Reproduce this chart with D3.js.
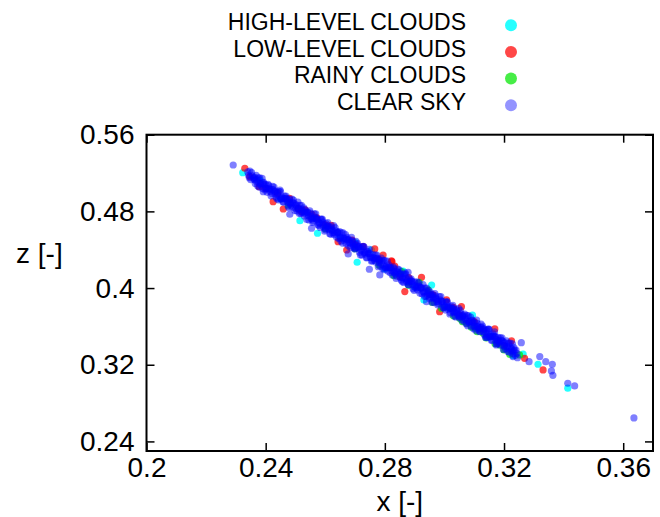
<!DOCTYPE html>
<html>
<head>
<meta charset="utf-8">
<script src="https://cdn.jsdelivr.net/npm/d3@7"></script>
<style>
  body { margin: 0; background: #fff; }
  text { font-family: "Liberation Sans", Arial, Helvetica, sans-serif; fill: #000; }
</style>
</head>
<body>
<div id="chart-area"></div>
<script>
// ticks
const xTicks = [0.2, 0.24, 0.28, 0.32, 0.36];
const zTicks = [0.24, 0.32, 0.4, 0.48, 0.56];

// series names, in plot order
const seriesNames = ['HIGH-LEVEL CLOUDS', 'LOW-LEVEL CLOUDS', 'RAINY CLOUDS', 'CLEAR SKY'];

// [x, z]
const highClouds = [
  [0.2323,0.5204],[0.2381,0.5127],[0.2450,0.4930],[0.2515,0.4703],[0.2574,0.4572],
  [0.2650,0.4520],[0.2699,0.4477],[0.2707,0.4269],[0.2755,0.4397],[0.2800,0.4200],
  [0.2861,0.4178],[0.2900,0.4010],[0.2931,0.3876],[0.2957,0.4032],[0.3000,0.3800],
  [0.3094,0.3717],[0.3100,0.3600],[0.3150,0.3490],[0.3200,0.3390],[0.3230,0.3296],
  [0.3264,0.3310],[0.3314,0.3205],[0.3414,0.2955]
];

const lowClouds = [
  [0.2330,0.5250],[0.2347,0.5162],[0.2378,0.5058],[0.2400,0.5040],[0.2425,0.4901],
  [0.2459,0.4825],[0.2509,0.4832],[0.2520,0.4800],[0.2532,0.4815],[0.2571,0.4734],
  [0.2600,0.4660],[0.2643,0.4484],[0.2672,0.4397],[0.2700,0.4450],[0.2727,0.4432],
  [0.2766,0.4408],[0.2794,0.4345],[0.2822,0.4283],[0.2824,0.4276],[0.2833,0.4230],
  [0.2850,0.4120],[0.2867,0.3963],[0.2923,0.4112],[0.2950,0.3935],[0.2962,0.3928],
  [0.2984,0.3754],[0.3007,0.3876],[0.3050,0.3720],[0.3057,0.3806],[0.3120,0.3570],
  [0.3169,0.3574],[0.3180,0.3430],[0.3200,0.3400],[0.3225,0.3449],[0.3269,0.3267],
  [0.3331,0.3146],[0.2440,0.4990],[0.2480,0.4935],[0.2555,0.4770],[0.2620,0.4655],
  [0.2690,0.4500],[0.2780,0.4300],[0.2880,0.4110],[0.3030,0.3800],[0.3100,0.3650]
];

const rainyClouds = [
  [0.2476,0.4867],[0.2600,0.4620],[0.2700,0.4410],[0.2780,0.4240],[0.2830,0.4130],
  [0.2856,0.4171],[0.2880,0.4030],[0.2915,0.4060],[0.2945,0.3980],[0.2960,0.3850],
  [0.2990,0.3790],[0.3018,0.3789],[0.3030,0.3710],[0.3051,0.3685],[0.3060,0.3650],
  [0.3074,0.3633],[0.3090,0.3590],[0.3102,0.3587],[0.3110,0.3545],[0.3130,0.3528],
  [0.3140,0.3480],[0.3152,0.3493],[0.3170,0.3420],[0.3186,0.3406],[0.3200,0.3355],
  [0.3219,0.3310],[0.3252,0.3302]
];

const clearSky = [
  [0.2291,0.5284],[0.2347,0.5220],[0.2364,0.5127],[0.2392,0.5005],[0.2481,0.4770],
  [0.2554,0.4624],[0.2677,0.4356],[0.2748,0.4196],[0.2783,0.4137],[0.2878,0.4165],
  [0.2940,0.3858],[0.3029,0.3754],[0.3141,0.3493],[0.3174,0.3406],[0.3258,0.3430],
  [0.3230,0.3285],[0.3284,0.3232],[0.3320,0.3285],[0.3340,0.3232],[0.3362,0.3205],
  [0.3359,0.3135],[0.3364,0.3090],[0.3414,0.3007],[0.3437,0.2979],[0.3636,0.2645],
  [0.2340,0.5212],[0.2345,0.5152],[0.2343,0.5176],[0.2350,0.5131],[0.2355,0.5171],[0.2353,0.5205],
  [0.2360,0.5151],[0.2365,0.5091],[0.2363,0.5155],[0.2370,0.5110],[0.2375,0.5150],[0.2373,0.5064],
  [0.2380,0.5150],[0.2385,0.5090],[0.2383,0.5074],[0.2390,0.5039],[0.2395,0.5079],[0.2393,0.5103],
  [0.2400,0.5079],[0.2405,0.4999],[0.2403,0.5043],[0.2410,0.5068],[0.2415,0.5008],[0.2413,0.5032],
  [0.2420,0.4988],[0.2425,0.5028],[0.2423,0.5062],[0.2430,0.5007],[0.2435,0.4947],[0.2433,0.5011],
  [0.2440,0.4967],[0.2445,0.5007],[0.2443,0.4921],[0.2450,0.5006],[0.2455,0.4946],[0.2453,0.4930],
  [0.2460,0.4896],[0.2465,0.4936],[0.2463,0.4960],[0.2470,0.4935],[0.2475,0.4855],[0.2473,0.4899],
  [0.2480,0.4925],[0.2485,0.4865],[0.2483,0.4889],[0.2490,0.4844],[0.2495,0.4884],[0.2493,0.4918],
  [0.2500,0.4863],[0.2505,0.4803],[0.2503,0.4867],[0.2510,0.4823],[0.2515,0.4863],[0.2513,0.4777],
  [0.2520,0.4862],[0.2525,0.4802],[0.2523,0.4786],[0.2530,0.4752],[0.2535,0.4792],[0.2533,0.4816],
  [0.2540,0.4791],[0.2545,0.4711],[0.2543,0.4755],[0.2550,0.4781],[0.2555,0.4721],[0.2553,0.4745],
  [0.2560,0.4700],[0.2565,0.4740],[0.2563,0.4774],[0.2570,0.4720],[0.2575,0.4660],[0.2573,0.4724],
  [0.2580,0.4679],[0.2585,0.4719],[0.2583,0.4633],[0.2590,0.4719],[0.2595,0.4659],[0.2593,0.4643],
  [0.2600,0.4608],[0.2605,0.4648],[0.2603,0.4672],[0.2610,0.4647],[0.2615,0.4567],[0.2613,0.4611],
  [0.2620,0.4637],[0.2625,0.4577],[0.2623,0.4601],[0.2630,0.4556],[0.2635,0.4596],[0.2633,0.4630],
  [0.2640,0.4576],[0.2645,0.4516],[0.2643,0.4580],[0.2650,0.4535],[0.2655,0.4575],[0.2653,0.4489],
  [0.2660,0.4575],[0.2665,0.4515],[0.2663,0.4499],[0.2670,0.4464],[0.2675,0.4504],[0.2673,0.4528],
  [0.2680,0.4504],[0.2685,0.4424],[0.2683,0.4468],[0.2690,0.4493],[0.2695,0.4433],[0.2693,0.4457],
  [0.2700,0.4413],[0.2705,0.4453],[0.2703,0.4487],[0.2710,0.4432],[0.2715,0.4372],[0.2713,0.4436],
  [0.2720,0.4392],[0.2725,0.4432],[0.2723,0.4346],[0.2730,0.4431],[0.2735,0.4371],[0.2733,0.4355],
  [0.2740,0.4320],[0.2745,0.4360],[0.2743,0.4384],[0.2750,0.4360],[0.2755,0.4280],[0.2753,0.4324],
  [0.2760,0.4349],[0.2765,0.4289],[0.2763,0.4313],[0.2770,0.4269],[0.2775,0.4309],[0.2773,0.4343],
  [0.2780,0.4288],[0.2785,0.4228],[0.2783,0.4292],[0.2790,0.4248],[0.2795,0.4288],[0.2793,0.4202],
  [0.2800,0.4287],[0.2805,0.4227],[0.2803,0.4211],[0.2810,0.4177],[0.2815,0.4217],[0.2813,0.4241],
  [0.2820,0.4216],[0.2825,0.4136],[0.2823,0.4180],[0.2830,0.4206],[0.2835,0.4146],[0.2833,0.4170],
  [0.2840,0.4125],[0.2845,0.4165],[0.2843,0.4199],[0.2850,0.4144],[0.2855,0.4084],[0.2853,0.4148],
  [0.2860,0.4104],[0.2865,0.4144],[0.2863,0.4058],[0.2870,0.4143],[0.2875,0.4083],[0.2873,0.4067],
  [0.2880,0.4033],[0.2885,0.4073],[0.2883,0.4097],[0.2890,0.4072],[0.2895,0.3992],[0.2893,0.4036],
  [0.2900,0.4062],[0.2905,0.4002],[0.2903,0.4026],[0.2910,0.3981],[0.2915,0.4021],[0.2913,0.4055],
  [0.2920,0.4001],[0.2925,0.3941],[0.2923,0.4005],[0.2930,0.3960],[0.2935,0.4000],[0.2933,0.3914],
  [0.2940,0.4000],[0.2945,0.3940],[0.2943,0.3924],[0.2950,0.3889],[0.2955,0.3929],[0.2953,0.3953],
  [0.2960,0.3929],[0.2965,0.3849],[0.2963,0.3893],[0.2970,0.3918],[0.2975,0.3858],[0.2973,0.3882],
  [0.2980,0.3838],[0.2985,0.3878],[0.2983,0.3912],[0.2990,0.3857],[0.2995,0.3797],[0.2993,0.3861],
  [0.3000,0.3816],[0.3005,0.3856],[0.3003,0.3770],[0.3010,0.3856],[0.3015,0.3796],[0.3013,0.3780],
  [0.3020,0.3745],[0.3025,0.3785],[0.3023,0.3809],[0.3030,0.3785],[0.3035,0.3705],[0.3033,0.3749],
  [0.3040,0.3774],[0.3045,0.3714],[0.3043,0.3738],[0.3050,0.3694],[0.3055,0.3734],[0.3053,0.3768],
  [0.3060,0.3713],[0.3065,0.3653],[0.3063,0.3717],[0.3070,0.3673],[0.3075,0.3713],[0.3073,0.3627],
  [0.3080,0.3712],[0.3085,0.3652],[0.3083,0.3636],[0.3090,0.3602],[0.3095,0.3642],[0.3093,0.3666],
  [0.3100,0.3641],[0.3105,0.3561],[0.3103,0.3605],[0.3110,0.3631],[0.3115,0.3571],[0.3113,0.3595],
  [0.3120,0.3550],[0.3125,0.3590],[0.3123,0.3624],[0.3130,0.3570],[0.3135,0.3510],[0.3133,0.3574],
  [0.3140,0.3529],[0.3145,0.3569],[0.3143,0.3483],[0.3150,0.3568],[0.3155,0.3508],[0.3153,0.3492],
  [0.3160,0.3458],[0.3165,0.3498],[0.3163,0.3522],[0.3170,0.3497],[0.3175,0.3417],[0.3173,0.3461],
  [0.3180,0.3487],[0.3185,0.3427],[0.3183,0.3451],[0.3190,0.3406],[0.3195,0.3446],[0.3193,0.3480],
  [0.3200,0.3426],[0.3205,0.3366],[0.3203,0.3430],[0.3210,0.3385],[0.3215,0.3425],[0.3213,0.3339],
  [0.3220,0.3425],[0.3225,0.3365],[0.3223,0.3349],[0.3230,0.3314],[0.3235,0.3354],[0.3233,0.3378],
  [0.3240,0.3354],[0.3245,0.3274],[0.3243,0.3318],
  [0.2368,0.5175],[0.2361,0.5139],[0.2378,0.5054],[0.2371,0.5128],[0.2388,0.5144],[0.2381,0.5088],
  [0.2398,0.5023],[0.2391,0.5097],[0.2408,0.5083],[0.2401,0.5037],[0.2418,0.4962],[0.2411,0.5036],
  [0.2428,0.5052],[0.2421,0.5026],[0.2438,0.4931],[0.2431,0.4985],[0.2448,0.5021],[0.2441,0.4995],
  [0.2458,0.4900],[0.2451,0.4934],[0.2468,0.4960],[0.2461,0.4934],[0.2478,0.4839],[0.2471,0.4923],
  [0.2488,0.4929],[0.2481,0.4883],[0.2498,0.4808],[0.2491,0.4892],[0.2508,0.4897],[0.2501,0.4831],
  [0.2518,0.4777],[0.2511,0.4831],[0.2528,0.4836],[0.2521,0.4820],[0.2538,0.4716],[0.2531,0.4780],
  [0.2548,0.4805],[0.2541,0.4789],[0.2558,0.4685],[0.2551,0.4729],[0.2568,0.4774],[0.2561,0.4728],
  [0.2578,0.4654],[0.2571,0.4718],[0.2588,0.4713],[0.2581,0.4677],[0.2598,0.4593],[0.2591,0.4687],
  [0.2608,0.4682],[0.2601,0.4626],[0.2618,0.4561],[0.2611,0.4625],[0.2628,0.4651],[0.2621,0.4615],
  [0.2638,0.4530],[0.2631,0.4574],[0.2648,0.4590],[0.2641,0.4584],[0.2658,0.4469],[0.2651,0.4523],
  [0.2668,0.4559],[0.2661,0.4523],[0.2678,0.4438],[0.2671,0.4512],[0.2688,0.4528],[0.2681,0.4472],
  [0.2698,0.4407],[0.2691,0.4481],[0.2708,0.4467],[0.2701,0.4421],[0.2718,0.4346],[0.2711,0.4420],
  [0.2728,0.4436],[0.2721,0.4410],[0.2738,0.4315],[0.2731,0.4369],[0.2748,0.4404],[0.2741,0.4378],
  [0.2758,0.4284],[0.2751,0.4318],[0.2768,0.4343],[0.2761,0.4317],[0.2778,0.4223],[0.2771,0.4307],
  [0.2788,0.4312],[0.2781,0.4266],[0.2798,0.4192],[0.2791,0.4276],[0.2808,0.4281],[0.2801,0.4215],
  [0.2818,0.4161],[0.2811,0.4215],[0.2828,0.4220],[0.2821,0.4204],[0.2838,0.4100],[0.2831,0.4164],
  [0.2848,0.4189],[0.2841,0.4173],[0.2858,0.4068],[0.2851,0.4112],[0.2868,0.4158],[0.2861,0.4112],
  [0.2878,0.4037],[0.2871,0.4101],[0.2888,0.4097],[0.2881,0.4061],[0.2898,0.3976],[0.2891,0.4070],
  [0.2908,0.4066],[0.2901,0.4010],[0.2918,0.3945],[0.2911,0.4009],[0.2928,0.4035],[0.2921,0.3999],
  [0.2938,0.3914],[0.2931,0.3958],[0.2948,0.3974],[0.2941,0.3968],[0.2958,0.3853],[0.2951,0.3907],
  [0.2968,0.3943],[0.2961,0.3907],[0.2978,0.3822],[0.2971,0.3896],[0.2988,0.3912],[0.2981,0.3856],
  [0.2998,0.3791],[0.2991,0.3865],[0.3008,0.3850],[0.3001,0.3804],[0.3018,0.3730],[0.3011,0.3804],
  [0.3028,0.3819],[0.3021,0.3793],[0.3038,0.3699],[0.3031,0.3753],[0.3048,0.3788],[0.3041,0.3762],
  [0.3058,0.3668],[0.3051,0.3702],[0.3068,0.3727],[0.3061,0.3701],[0.3078,0.3607],[0.3071,0.3691],
  [0.3088,0.3696],[0.3081,0.3650],[0.3098,0.3576],[0.3091,0.3660],[0.3108,0.3665],[0.3101,0.3599],
  [0.3118,0.3545],[0.3111,0.3599],[0.3128,0.3604],[0.3121,0.3588],[0.3138,0.3484],[0.3131,0.3548],
  [0.3148,0.3573],[0.3141,0.3557],[0.3158,0.3452],[0.3151,0.3496],[0.3168,0.3542],[0.3161,0.3496],
  [0.3178,0.3421],[0.3171,0.3485],[0.3188,0.3481],[0.3181,0.3445],[0.3198,0.3360],[0.3191,0.3454],
  [0.3208,0.3450],[0.3201,0.3394],[0.3218,0.3329],[0.3211,0.3393],[0.3228,0.3419],[0.3221,0.3383],
  [0.3238,0.3298],[0.3231,0.3342]
];

const series = [
  { name: seriesNames[0], values: highClouds,  colour: 'rgb(0,255,255)', opacity: 0.85 },
  { name: seriesNames[1], values: lowClouds,   colour: 'rgb(255,0,0)',   opacity: 0.72 },
  { name: seriesNames[2], values: rainyClouds, colour: 'rgb(0,230,0)',   opacity: 0.72 },
  { name: seriesNames[3], values: clearSky,    colour: 'rgb(0,0,255)',   opacity: 0.5 }
];

const width = 660;
const height = 517;
const plot = { left: 146.5, right: 653, top: 134.7, bottom: 451 };

const x = d3.scaleLinear()
  .domain([0.2, 0.37])
  .range([plot.left, plot.right]);

const y = d3.scaleLinear()
  .domain([0.23, 0.56])
  .range([plot.bottom, plot.top]);

const svg = d3.select('#chart-area').append('svg')
  .attr('width', width)
  .attr('height', height);

// points, cyan first so clear sky ends up on top
series.forEach(s => {
  svg.append('g')
    .selectAll('circle')
    .data(s.values)
    .enter()
    .append('circle')
    .attr('cx', d => x(d[0]))
    .attr('cy', d => y(d[1]))
    .attr('r', 3.6)
    .attr('fill', s.colour)
    .attr('fill-opacity', s.opacity);
});

// axes, ticks pointing inward on all sides
const fmt = d => String(d);

svg.append('g')
  .attr('transform', `translate(0, ${plot.bottom})`)
  .call(d3.axisBottom(x).tickValues(xTicks).tickFormat(fmt).tickSize(-8).tickSizeOuter(0).tickPadding(6));

svg.append('g')
  .attr('transform', `translate(0, ${plot.top})`)
  .call(d3.axisTop(x).tickValues(xTicks).tickFormat('').tickSize(-8).tickSizeOuter(0));

svg.append('g')
  .attr('transform', `translate(${plot.left}, 0)`)
  .call(d3.axisLeft(y).tickValues(zTicks).tickFormat(fmt).tickSize(-8).tickSizeOuter(0).tickPadding(12));

svg.append('g')
  .attr('transform', `translate(${plot.right}, 0)`)
  .call(d3.axisRight(y).tickValues(zTicks).tickFormat('').tickSize(-8).tickSizeOuter(0));

svg.selectAll('.domain').remove();
svg.selectAll('.tick line').attr('stroke', '#000').attr('stroke-width', 1.5);
svg.selectAll('.tick text')
  .attr('font-family', '"Liberation Sans", Arial, sans-serif')
  .attr('font-size', 28)
  .attr('fill', '#000');

// frame
svg.append('rect')
  .attr('x', plot.left)
  .attr('y', plot.top)
  .attr('width', plot.right - plot.left)
  .attr('height', plot.bottom - plot.top)
  .attr('fill', 'none')
  .attr('stroke', '#000')
  .attr('stroke-width', 2);

// axis labels
svg.append('text')
  .attr('x', (plot.left + plot.right) / 2)
  .attr('y', 511)
  .attr('font-size', 28)
  .attr('text-anchor', 'middle')
  .text('x [-]');

svg.append('text')
  .attr('x', 16)
  .attr('y', 263)
  .attr('font-size', 28)
  .attr('text-anchor', 'start')
  .text('z [-]');

// legend
const legend = svg.append('g');
series.forEach((s, i) => {
  const row = legend.append('g')
    .attr('transform', `translate(0, ${21.7 + i * 26.7})`);

  row.append('text')
    .attr('x', 466)
    .attr('y', 0)
    .attr('dy', '0.36em')
    .attr('font-size', 23)
    .attr('text-anchor', 'end')
    .text(s.name);

  row.append('circle')
    .attr('cx', 511)
    .attr('cy', 3.5)
    .attr('r', 6)
    .attr('fill', s.colour)
    .attr('fill-opacity', i === 3 ? 0.42 : s.opacity);
});
</script>
</body>
</html>
